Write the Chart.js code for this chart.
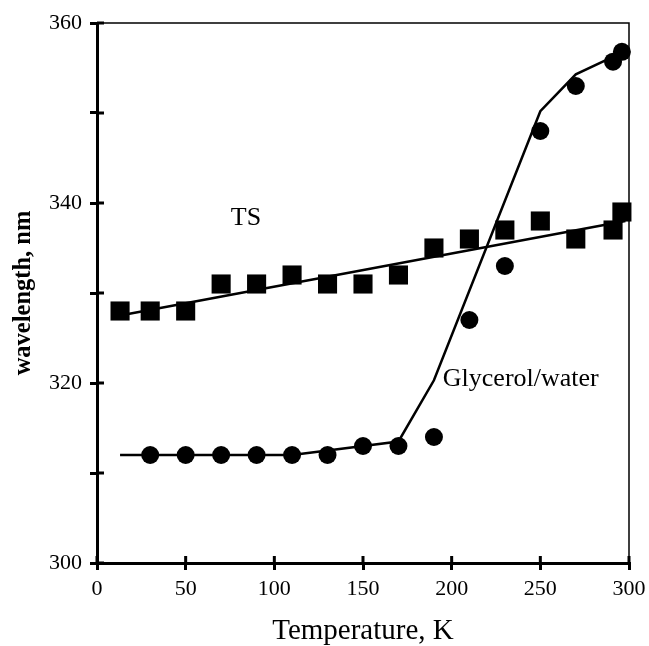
<!DOCTYPE html>
<html>
<head>
<meta charset="utf-8">
<script src="https://cdn.jsdelivr.net/npm/chart.js@4"></script>
<style>
  html, body { margin: 0; padding: 0; background: #fff; }
  #wrap { width: 649px; height: 646px; }
</style>
</head>
<body>
<div id="wrap"><canvas id="chart" width="649" height="646"></canvas></div>
<script>
// measured data (temperature in K, emission maximum in nm)
const tsTemps = [13, 30, 50, 70, 90, 110, 130, 150, 170, 190, 210, 230, 250, 270, 291, 296];
const tsWave = [328, 328, 328, 331, 331, 332, 331, 331, 332, 335, 336, 337, 338, 336, 337, 339];

const glyTemps = [30, 50, 70, 90, 110, 130, 150, 170, 190, 210, 230, 250, 270, 291, 296];
const glyWave = [312, 312, 312, 312, 312, 312, 313, 313, 314, 327, 333, 348, 353, 355.7, 356.8];

// fitted curves drawn through the points
const tsFitTemps = [13, 298];
const tsFitWave = [327.5, 338];
const glyFitTemps = [13, 110, 170, 190, 250, 270, 296];
const glyFitWave = [312, 312, 313.5, 320.3, 350.2, 354.3, 356.7];

// axis ticks
const xTicks = [0, 50, 100, 150, 200, 250, 300];
const yTicks = [300, 310, 320, 330, 340, 350, 360];
const yLabelled = [300, 320, 340, 360];

// in-plot labels: [text, temperature, wavelength]
const curveLabels = [
  ['TS', 84, 338.3, 'center'],
  ['Glycerol/water', 195, 320.4, 'left']
];

const serif = '"Liberation Serif", "Times New Roman", serif';

function toPoints(xs, ys) {
  return xs.map((x, i) => ({ x: x, y: ys[i] }));
}

// draw tick marks on the inside of the axes plus the thin top/right frame
const frameAndTicks = {
  id: 'frameAndTicks',
  afterDatasetsDraw(chart) {
    const { ctx, chartArea: a, scales } = chart;
    ctx.save();
    ctx.strokeStyle = '#000';
    ctx.lineWidth = 1.5;
    ctx.beginPath();
    ctx.moveTo(a.left, a.top);
    ctx.lineTo(a.right, a.top);
    ctx.lineTo(a.right, a.bottom);
    ctx.stroke();

    ctx.lineWidth = 3;
    ctx.beginPath();
    xTicks.forEach(v => {
      const px = scales.x.getPixelForValue(v);
      ctx.moveTo(px, a.bottom);
      ctx.lineTo(px, a.bottom - 7);
    });
    yTicks.forEach(v => {
      const py = scales.y.getPixelForValue(v);
      ctx.moveTo(a.left, py);
      ctx.lineTo(a.left + 7, py);
    });
    ctx.stroke();

    ctx.fillStyle = '#000';
    ctx.font = '26px ' + serif;
    ctx.textBaseline = 'middle';
    curveLabels.forEach(([text, t, w, align]) => {
      ctx.textAlign = align;
      ctx.fillText(text, scales.x.getPixelForValue(t), scales.y.getPixelForValue(w));
    });
    ctx.restore();
  }
};

new Chart(document.getElementById('chart'), {
  type: 'scatter',
  data: {
    datasets: [
      {
        label: 'TS fit',
        data: toPoints(tsFitTemps, tsFitWave),
        showLine: true,
        borderColor: '#000',
        borderWidth: 2.5,
        pointRadius: 0,
        clip: false
      },
      {
        label: 'Glycerol/water fit',
        data: toPoints(glyFitTemps, glyFitWave),
        showLine: true,
        borderColor: '#000',
        borderWidth: 2.5,
        pointRadius: 0,
        clip: false
      },
      {
        label: 'TS',
        data: toPoints(tsTemps, tsWave),
        pointStyle: 'rect',
        pointRadius: 13.5,
        pointBorderWidth: 0,
        backgroundColor: '#000',
        borderColor: '#000',
        clip: false
      },
      {
        label: 'Glycerol/water',
        data: toPoints(glyTemps, glyWave),
        pointStyle: 'circle',
        pointRadius: 9,
        pointBorderWidth: 0,
        backgroundColor: '#000',
        borderColor: '#000',
        clip: false
      }
    ]
  },
  options: {
    responsive: false,
    animation: false,
    layout: { padding: { top: 23, right: 20, left: 0, bottom: 0 } },
    plugins: {
      legend: { display: false },
      tooltip: { enabled: false }
    },
    scales: {
      x: {
        type: 'linear',
        min: 0,
        max: 300,
        afterBuildTicks: s => { s.ticks = xTicks.map(v => ({ value: v })); },
        afterFit: s => { s.height = 83; s.paddingRight = 0; s.paddingLeft = 0; },
        grid: { drawOnChartArea: false, drawTicks: true, tickLength: 7, lineWidth: 3, color: '#000' },
        border: { color: '#000', width: 3 },
        ticks: { color: '#000', padding: 6, font: { family: serif, size: 22 } },
        title: {
          display: true,
          text: 'Temperature, K',
          color: '#000',
          font: { family: serif, size: 29, lineHeight: 1 },
          padding: { top: 0, bottom: 0 }
        }
      },
      y: {
        type: 'linear',
        min: 300,
        max: 360,
        afterBuildTicks: s => { s.ticks = yTicks.map(v => ({ value: v })); },
        afterFit: s => { s.width = 97; },
        grid: { drawOnChartArea: false, drawTicks: true, tickLength: 7, lineWidth: 3, color: '#000' },
        border: { color: '#000', width: 3 },
        ticks: {
          color: '#000',
          padding: 8,
          font: { family: serif, size: 22 },
          callback: v => (yLabelled.includes(v) ? String(v) : '')
        },
        title: {
          display: true,
          text: 'wavelength, nm',
          color: '#000',
          font: { family: serif, size: 24.5, weight: 'bold', lineHeight: 1 },
          padding: { top: 11, bottom: 0 }
        }
      }
    }
  },
  plugins: [frameAndTicks]
});
</script>
</body>
</html>
